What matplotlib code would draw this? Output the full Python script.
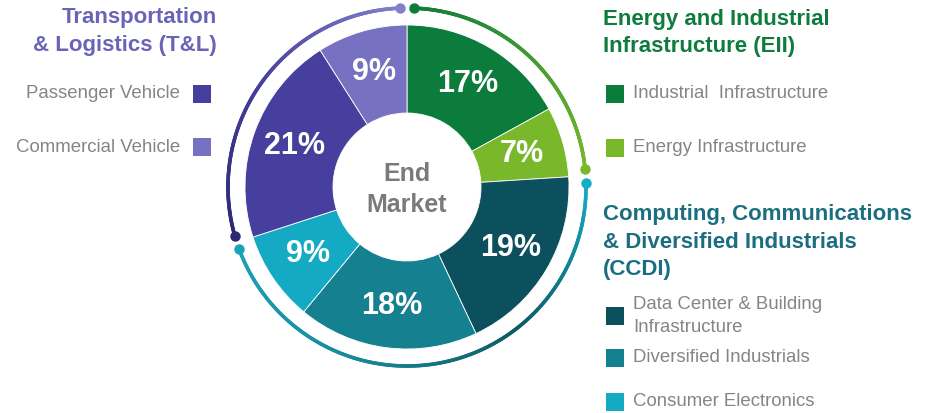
import numpy as np
import matplotlib
matplotlib.use("Agg")
import matplotlib.pyplot as plt
from matplotlib.collections import LineCollection
from matplotlib.colors import to_rgb

plt.rcParams['font.family'] = ['Liberation Sans', 'DejaVu Sans']

# End-market shares, clockwise from 12 o'clock
segments = ["Industrial Infrastructure", "Energy Infrastructure",
            "Data Center & Building Infrastructure", "Diversified Industrials",
            "Consumer Electronics", "Passenger Vehicle", "Commercial Vehicle"]
shares = [17, 7, 19, 18, 9, 21, 9]
seg_colors = ["#0b7c3c", "#79b82b", "#0c4f5d", "#15808f", "#15aac3",
              "#463f9d", "#7771c1"]

# Business groups (consecutive segments)
groups = ["EII", "CCDI", "T&L"]
group_sizes = [2, 3, 2]
group_titles = {
    "T&L": ["Transportation", "& Logistics (T&L)"],
    "EII": ["Energy and Industrial", "Infrastructure (EII)"],
    "CCDI": ["Computing, Communications", "& Diversified Industrials", "(CCDI)"],
}
group_title_colors = {"T&L": "#6a64b6", "EII": "#0e7c3d", "CCDI": "#1b6e80"}
# arc colour ramps along each group's bracket (clockwise order)
arc_ramps = {
    "EII": ["#0b7c3c", "#79b82b"],
    "CCDI": ["#16aec6", "#0e5a66", "#17889a", "#1aa3b6"],
    "T&L": ["#2d2970", "#463f9d", "#8580cb"],
}

W, H = 928, 413
fig = plt.figure(figsize=(W / 100, H / 100), dpi=100)
ax = fig.add_axes([0, 0, 1, 1])

cx, cy = 407, H - 187
R_out, R_in = 162, 74

wedges, _, autotexts = ax.pie(
    shares, colors=seg_colors, startangle=90, counterclock=False,
    center=(cx, cy), radius=R_out,
    autopct=lambda p: f"{p:.0f}%", pctdistance=0.74,
    wedgeprops=dict(width=R_out - R_in, edgecolor="white", linewidth=0.6),
    textprops=dict(color="white", fontsize=22, fontweight="bold"),
)

ax.text(cx, H - 174, "End", ha="center", va="center", fontsize=18,
        fontweight="bold", color="#7a7a7a")
ax.text(cx, H - 205, "Market", ha="center", va="center", fontsize=18,
        fontweight="bold", color="#7a7a7a")


def ramp(colors, n):
    cols = np.array([to_rgb(c) for c in colors])
    pos = np.linspace(0, 1, len(cols))
    t = np.linspace(0, 1, n)
    return np.stack([np.interp(t, pos, cols[:, k]) for k in range(3)], axis=1)


# Group brackets: gradient arcs around the ring with dotted ends
R_arc = 179
gap = 2.2
start = 0
theta0 = 90.0
for g, n in zip(groups, group_sizes):
    frac = sum(shares[start:start + n]) / sum(shares)
    a1 = theta0 - gap
    a2 = theta0 - frac * 360 + gap
    ang = np.radians(np.linspace(a1, a2, 300))
    xs = cx + R_arc * np.cos(ang)
    ys = cy + R_arc * np.sin(ang)
    pts = np.column_stack([xs, ys]).reshape(-1, 1, 2)
    segs = np.concatenate([pts[:-1], pts[1:]], axis=1)
    cols = ramp(arc_ramps[g], len(segs))
    ax.add_collection(LineCollection(segs, colors=cols, linewidths=2.6,
                                     capstyle="round"))
    ax.plot([xs[0]], [ys[0]], "o", ms=7.5, color=cols[0], mec="none")
    ax.plot([xs[-1]], [ys[-1]], "o", ms=7.5, color=cols[-1], mec="none")
    theta0 -= frac * 360
    start += n

label_gray = "#858585"
title_kw = dict(fontsize=16, fontweight="bold")
label_kw = dict(fontsize=13.4, color=label_gray)


def title_block(x, y0, lines, color, ha):
    for i, line in enumerate(lines):
        ax.text(x, H - (y0 + 27.5 * i), line, ha=ha, va="center",
                color=color, **title_kw)


# Left legend (T&L)
title_block(217, 18, group_titles["T&L"], group_title_colors["T&L"], "right")
for lbl, col, y in [(segments[5], seg_colors[5], 94),
                    (segments[6], seg_colors[6], 147)]:
    ax.text(180, H - y, lbl, ha="right", va="center", **label_kw)
    ax.scatter([202], [H - y], marker="s", s=150, color=col, linewidths=0)

# Right legends (EII, CCDI)
title_block(603, 19, group_titles["EII"], group_title_colors["EII"], "left")
title_block(603, 215, group_titles["CCDI"], group_title_colors["CCDI"], "left")

right_items = [
    (["Industrial  Infrastructure"], seg_colors[0], 94),
    ([segments[1]], seg_colors[1], 148),
    (["Data Center & Building", "Infrastructure"], seg_colors[2], 316),
    ([segments[3]], seg_colors[3], 358),
    ([segments[4]], seg_colors[4], 402),
]
for lines, col, ys in right_items:
    ax.scatter([615], [H - ys], marker="s", s=150, color=col, linewidths=0)
    y_first = ys - 11.5 * (len(lines) - 1)
    for i, line in enumerate(lines):
        ax.text(633, H - (y_first + 23 * i), line, ha="left", va="center",
                **label_kw)

ax.set_xlim(0, W)
ax.set_ylim(0, H)
ax.set_aspect("equal")
ax.axis("off")

fig.savefig("out.png", dpi=100, facecolor="white")
